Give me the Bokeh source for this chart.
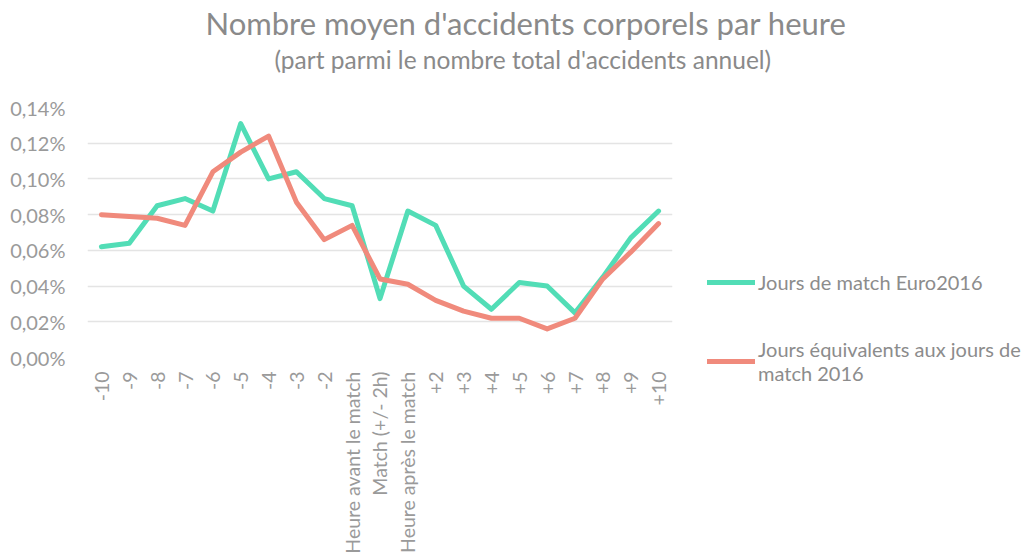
from bokeh.plotting import figure
from bokeh.models import FactorRange, Range1d, FixedTicker, Legend, LegendItem, Title, ColumnDataSource
from bokeh.embed import file_html
from bokeh.resources import INLINE

categories = ["-10", "-9", "-8", "-7", "-6", "-5", "-4", "-3", "-2",
              "Heure avant le match", "Match (+/- 2h)", "Heure après le match",
              "+2", "+3", "+4", "+5", "+6", "+7", "+8", "+9", "+10"]
euro2016 = [0.062, 0.064, 0.085, 0.089, 0.082, 0.131, 0.100, 0.104, 0.089, 0.085, 0.033,
            0.082, 0.074, 0.040, 0.027, 0.042, 0.040, 0.025, 0.045, 0.067, 0.082]
equivalent = [0.080, 0.079, 0.078, 0.074, 0.104, 0.115, 0.124, 0.087, 0.066, 0.074, 0.044,
              0.041, 0.032, 0.026, 0.022, 0.022, 0.016, 0.022, 0.044, 0.059, 0.075]
y_ticks = [0.00, 0.02, 0.04, 0.06, 0.08, 0.10, 0.12, 0.14]
y_tick_labels = ["0,00%", "0,02%", "0,04%", "0,06%", "0,08%", "0,10%", "0,12%", "0,14%"]
series_names = ["Jours de match Euro2016", "Jours équivalents aux jours de\nmatch 2016"]
title_text = "Nombre moyen d'accidents corporels par heure"
subtitle_text = "(part parmi le nombre total d'accidents annuel)"

FONT = "Lato"
GREEN = "#52DDB6"
RED = "#F08A7C"

src = ColumnDataSource(dict(cat=categories, euro=euro2016, eq=equivalent))

p = figure(frame_width=585, frame_height=250, x_range=FactorRange(factors=categories),
           y_range=Range1d(0, 0.14), output_backend="svg", toolbar_location=None,
           min_border_left=87, min_border_right=0, min_border_top=106, min_border_bottom=203,
           outline_line_color=None)

r1 = p.line("cat", "euro", source=src, line_color=GREEN, line_width=5,
            line_join="round", line_cap="round")
r2 = p.line("cat", "eq", source=src, line_color=RED, line_width=5,
            line_join="round", line_cap="round")

p.xgrid.grid_line_color = None
p.ygrid.grid_line_color = "#e4e4e4"
p.ygrid.grid_line_width = 1.6

p.yaxis.ticker = FixedTicker(ticks=y_ticks)
p.yaxis.major_label_overrides = {t: l for t, l in zip(y_ticks, y_tick_labels)}
for ax in (p.xaxis, p.yaxis):
    ax.axis_line_color = None
    ax.major_tick_line_color = None
    ax.minor_tick_line_color = None
    ax.major_label_text_font = FONT
    ax.major_label_text_color = "#9a9a9a"
p.yaxis.major_label_text_font_size = "20px"
p.yaxis.major_label_standoff = 16
p.xaxis.major_label_text_font_size = "19.5px"
p.xaxis.major_label_orientation = 1.5707963
p.xaxis.major_label_standoff = 8

p.title.visible = False
spacer = Title(text=" ", text_font=FONT, text_font_size="10px", standoff=20)
sub = Title(text=subtitle_text, text_font=FONT, text_font_size="24.5px", text_color="#8a8a8a",
            text_font_style="normal", align="left", offset=187, standoff=0)
main = Title(text=title_text, text_font=FONT, text_font_size="31px", text_color="#8a8a8a",
             text_font_style="normal", align="left", offset=118, standoff=2)
p.add_layout(spacer, "above")
p.add_layout(sub, "above")
p.add_layout(main, "above")

leg = Legend(items=[LegendItem(label=series_names[0], renderers=[r1]),
                    LegendItem(label=series_names[1], renderers=[r2])],
             location=(35, -28), glyph_width=48, spacing=43,
             label_text_font=FONT, label_text_font_size="20px",
             label_text_color="#8c8c8c", padding=0, margin=0, label_standoff=3,
             border_line_alpha=0, background_fill_alpha=0)
p.add_layout(leg, "right")

open("out.html", "w").write(file_html(p, INLINE))
